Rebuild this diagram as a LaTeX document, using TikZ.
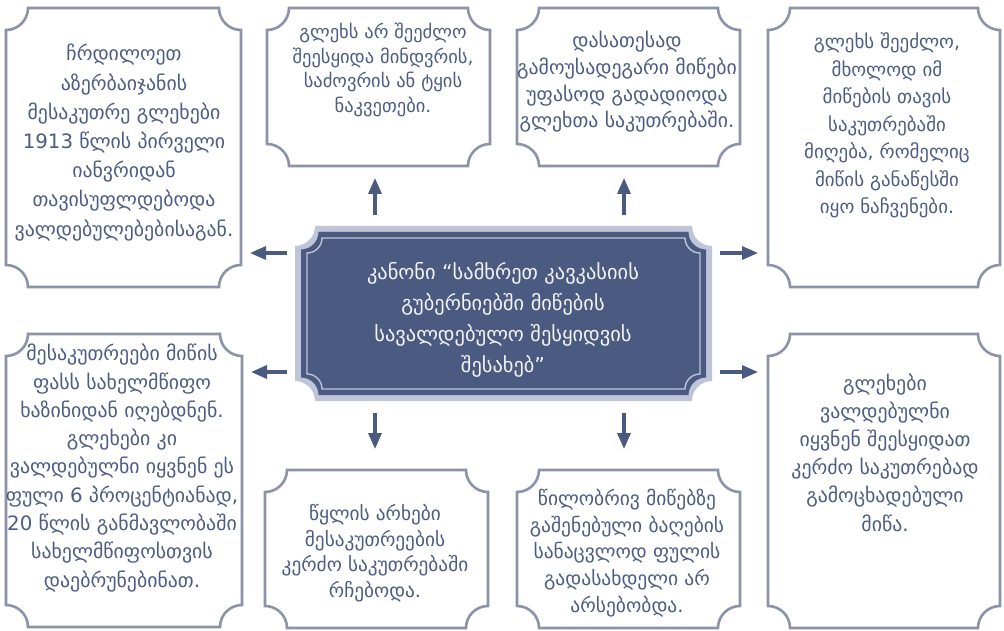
\documentclass[tikz,border=0pt]{standalone}
\usepackage{fontspec}
\setmainfont{DejaVu Sans}
\usetikzlibrary{calc,arrows.meta}
\definecolor{edgec}{HTML}{8C93A8}
\definecolor{ink}{HTML}{4D5C82}
\definecolor{darkc}{HTML}{4B5A80}
\definecolor{pale}{HTML}{BEC5D9}
\definecolor{ctext}{HTML}{F2F3F7}
% #1 style, #2 node, #3 corner radius, #4 inset
\newcommand\plaque[4][]{%
  \path (#2.north west) ++(#4,-#4) coordinate (pNW)
        (#2.north east) ++(-#4,-#4) coordinate (pNE)
        (#2.south east) ++(-#4,#4) coordinate (pSE)
        (#2.south west) ++(#4,#4) coordinate (pSW);
  \draw[#1] ($(pNW)+(#3,0)$) -- ($(pNE)+(-#3,0)$)
     arc[start angle=180,end angle=270,radius=#3]
     -- ($(pSE)+(0,#3)$) arc[start angle=90,end angle=180,radius=#3]
     -- ($(pSW)+(#3,0)$) arc[start angle=0,end angle=90,radius=#3]
     -- ($(pNW)+(0,-#3)$) arc[start angle=270,end angle=360,radius=#3]
     -- cycle;}
\newcommand\fsz[2]{\fontsize{#1}{#2}\selectfont\lineskiplimit=-100pt\relax}
\tikzset{
  frame/.style={inner sep=0pt, outer sep=0pt, draw=none},
  outline/.style={draw=edgec, line width=2.6pt, fill=white},
  txt/.style={align=center, text=ink, inner sep=0pt},
  arr/.style={draw=darkc, line width=3.2pt, -{Triangle[length=16pt,width=13pt]}}
}
\begin{document}
\begin{tikzpicture}[x=1pt,y=-1pt]
\useasboundingbox[fill=white] (0,0) rectangle (1004,631);
% frames
\node[frame, minimum width=235pt, minimum height=279pt] (tl) at (123.5,147.5) {};
\node[frame, minimum width=223pt, minimum height=158pt] (tm1) at (378.5,87) {};
\node[frame, minimum width=223pt, minimum height=158pt] (tm2) at (628.5,87) {};
\node[frame, minimum width=232pt, minimum height=279pt] (tr) at (884,147.5) {};
\node[frame, minimum width=236pt, minimum height=293pt] (bl) at (124,480.5) {};
\node[frame, minimum width=223pt, minimum height=158pt] (bm1) at (376.5,549) {};
\node[frame, minimum width=223pt, minimum height=158pt] (bm2) at (628.5,549) {};
\node[frame, minimum width=232pt, minimum height=294pt] (br) at (884,481) {};
\node[frame, minimum width=417pt, minimum height=175pt] (c) at (503.5,313.5) {};
\foreach \n in {tl,tm1,tm2,tr,bl,bm1,bm2,br}{\plaque[outline]{\n}{22pt}{0pt}}
\plaque[fill=pale, draw=none]{c}{20pt}{0pt}
\plaque[fill=darkc, draw=none]{c}{17.5pt}{6pt}
\plaque[draw=pale, line width=1.4pt]{c}{15pt}{12pt}
% texts
\node[txt, font=\fsz{19.8}{29.2}] (ttl) at (124,142.5)
 {ჩრდილოეთ\\აზერბაიჯანის\\მესაკუთრე გლეხები\\1913 წლის პირველი\\იანვრიდან\\თავისუფლდებოდა\\ვალდებულებებისაგან.};
\node[txt, font=\fsz{18.5}{24.7}] (ttm1) at (383,70)
 {გლეხს არ შეეძლო\\შეესყიდა მინდვრის,\\საძოვრის ან ტყის\\ნაკვეთები.};
\node[txt, font=\fsz{19.8}{26.7}] (ttm2) at (627,82)
 {დასათესად\\გამოუსადეგარი მიწები\\უფასოდ გადადიოდა\\გლეხთა საკუთრებაში.};
\node[txt, font=\fsz{18.9}{27.5}] (ttr) at (887,125.5)
 {გლეხს შეეძლო,\\მხოლოდ იმ\\მიწების თავის\\საკუთრებაში\\მიღება, რომელიც\\მიწის განაწესში\\იყო ნაჩვენები.};
\node[txt, font=\fsz{19.8}{28.3}] (tbl) at (122,468)
 {მესაკუთრეები მიწის\\ფასს სახელმწიფო\\ხაზინიდან იღებდნენ.\\გლეხები კი\\ვალდებულნი იყვნენ ეს\\ფული 6 პროცენტიანად,\\20 წლის განმავლობაში\\სახელმწიფოსთვის\\დაებრუნებინათ.};
\node[txt, font=\fsz{19.3}{25.5}] (tbm1) at (375,553)
 {წყლის არხები\\მესაკუთრეების\\კერძო საკუთრებაში\\რჩებოდა.};
\node[txt, font=\fsz{19.5}{26.7}] (tbm2) at (627,553)
 {წილობრივ მიწებზე\\გაშენებული ბაღების\\სანაცვლოდ ფულის\\გადასახდელი არ\\არსებობდა.};
\node[txt, font=\fsz{19.8}{28.2}] (tbr) at (885,452.5)
 {გლეხები\\ვალდებულნი\\იყვნენ შეესყიდათ\\კერძო საკუთრებად\\გამოცხადებული\\მიწა.};
\node[txt, text=ctext, font=\fsz{20.4}{31}] (tc) at (503,320)
 {კანონი “სამხრეთ კავკასიის\\გუბერნიებში მიწების\\სავალდებულო შესყიდვის\\შესახებ”};
% arrow guide coordinates
\coordinate (xa) at (375,0);
\coordinate (xb) at (624,0);
\coordinate (ya) at (0,253);
\coordinate (yb) at (0,372);
\draw[arr, shorten <=11pt, shorten >=12pt] (c.north -| xa) -- (tm1.south -| xa);
\draw[arr, shorten <=11pt, shorten >=12pt] (c.north -| xb) -- (tm2.south -| xb);
\draw[arr, shorten <=12pt, shorten >=21pt] (c.south -| xa) -- (bm1.north -| xa);
\draw[arr, shorten <=12pt, shorten >=21pt] (c.south -| xb) -- (bm2.north -| xb);
\draw[arr, shorten <=8pt, shorten >=9pt] (c.west |- ya) -- (tl.east |- ya);
\draw[arr, shorten <=8pt, shorten >=9pt] (c.west |- yb) -- (bl.east |- yb);
\draw[arr, shorten <=8pt, shorten >=10pt] (c.east |- ya) -- (tr.west |- ya);
\draw[arr, shorten <=8pt, shorten >=10pt] (c.east |- yb) -- (br.west |- yb);
\end{tikzpicture}
\end{document}
